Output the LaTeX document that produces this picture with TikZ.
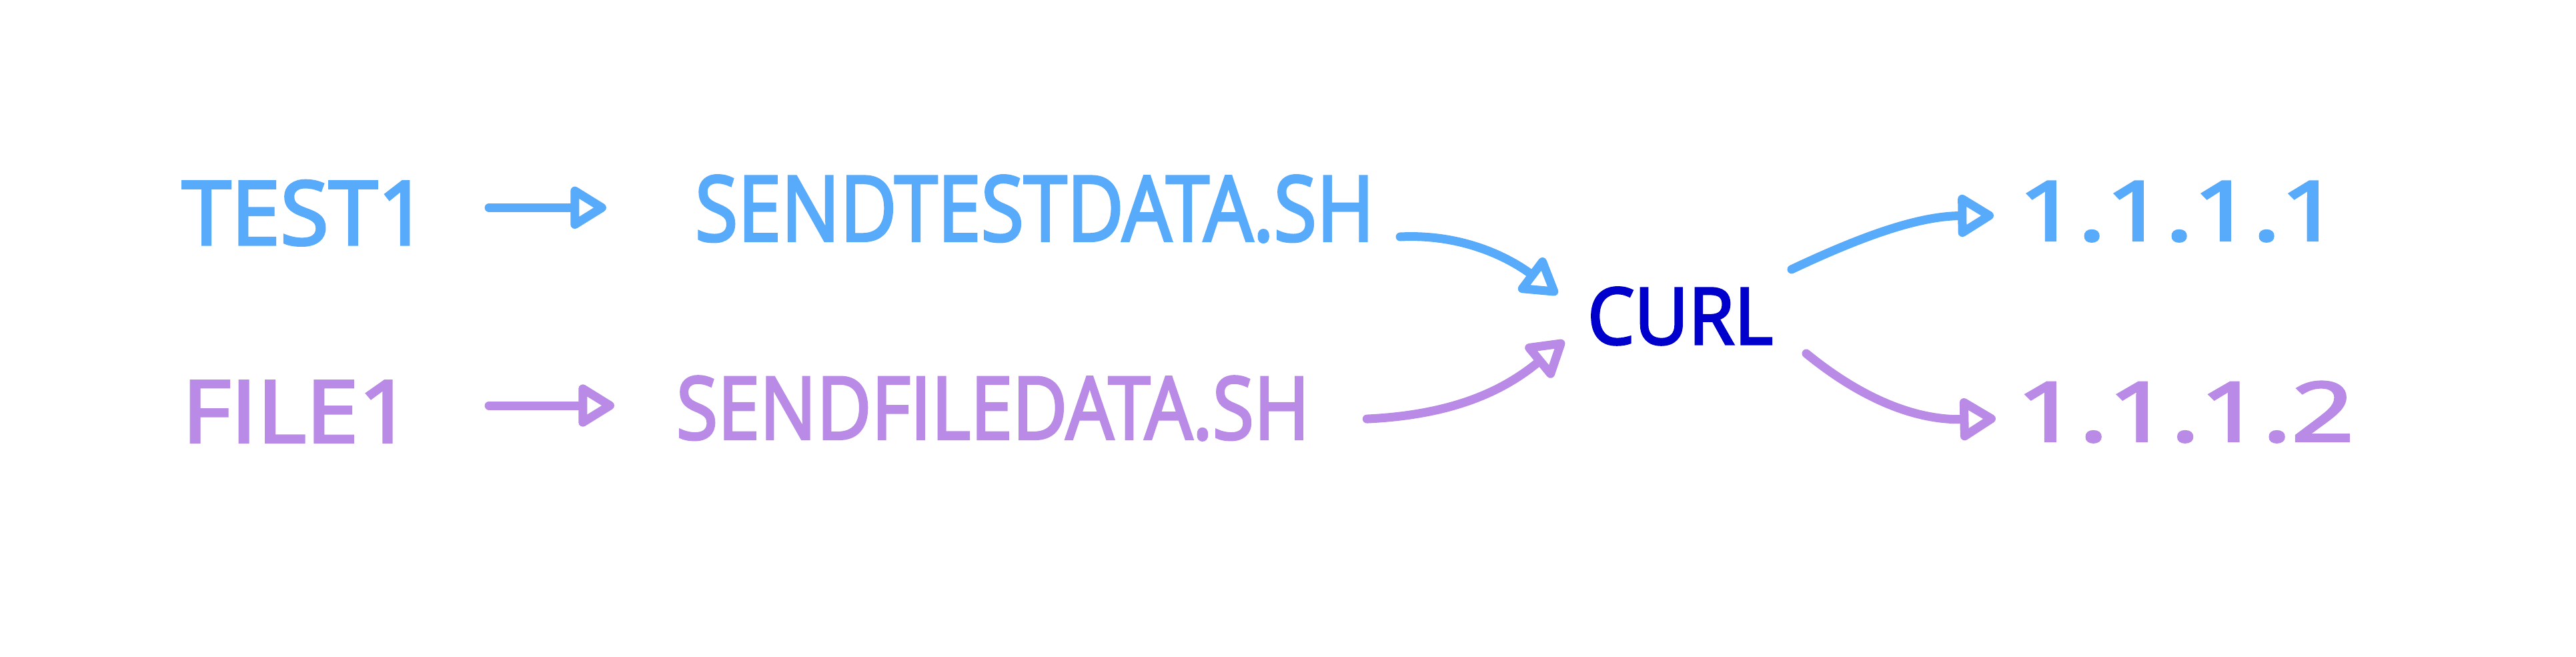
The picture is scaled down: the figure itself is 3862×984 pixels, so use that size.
\documentclass[tikz,border=0pt]{standalone}
\usepackage{fontspec}
\setmainfont{Open Sans}
\newfontfamily\handfont{Open Sans}[FakeBold=3]
\usepackage{graphicx}
\usetikzlibrary{arrows.meta}
\definecolor{cblue}{HTML}{58AAFA}
\definecolor{cpurple}{HTML}{B98BE6}
\definecolor{cdark}{HTML}{0000CC}
\newlength\pxu
\setlength\pxu{0.01cm}
\newcommand{\fitbox}[3]{\resizebox{#1\pxu}{#2\pxu}{\handfont #3}}
\tikzset{
  lbl/.style={anchor=south west, inner sep=0pt, outer sep=0pt},
  arr/.style={line width=0.13cm, line cap=round, line join=round,
    -{Triangle[open, round, length=0.6cm, width=0.7cm]}},
}
\begin{document}
\begin{tikzpicture}[x=0.01cm, y=-0.01cm]
\path[use as bounding box, fill=white] (0,0) rectangle (3862,984);

% labels
\node[lbl, text=cblue] (t1) at (273,368) {\fitbox{369}{96}{TEST1}};
\node[lbl, text=cblue] (s1) at (1042,363) {\fitbox{1018}{98}{SENDTESTDATA.SH}};
\node[lbl, text=cpurple] (f1) at (273,663) {\fitbox{345}{92}{FILE1}};
\node[lbl, text=cpurple] (s2) at (1014,660) {\fitbox{949}{94}{SENDFILEDATA.SH}};
\node[lbl, text=cdark] (curl) at (2380,517) {\fitbox{278}{85}{CURL}};
\node[lbl, text=cblue] (ip1) at (3026,362) {\fitbox{482}{88}{1.1.1.1}};
\node[lbl, text=cpurple] (ip2) at (3023,663) {\fitbox{506}{89}{1.1.1.2}};

% short arrows
\draw[arr, cblue, shorten <=0.91cm, shorten >=1.33cm]
  ([yshift=0.08cm]t1.east) -- ([yshift=0.08cm]t1.east -| s1.west);
\draw[arr, cpurple, shorten <=1.15cm, shorten >=0.93cm]
  ([yshift=0.09cm]f1.east) -- ([yshift=0.09cm]f1.east -| s2.west);

% curves into curl
\draw[arr, cblue] ([shift={(39,-8)}]s1.south east)
  .. controls (2200,350) and (2270,392) .. ([shift={(-45,-33)}]curl.west);
\draw[arr, cpurple] ([shift={(86,16)}]s2.east)
  .. controls (2180,622) and (2255,585) .. ([shift={(-35,37)}]curl.west);

% curves out of curl
\draw[arr, cblue] ([shift={(28,-27)}]curl.north east)
  .. controls (2800,350) and (2880,324) .. ([shift={(-37,6)}]ip1.west);
\draw[arr, cpurple] ([shift={(50,13)}]curl.south east)
  .. controls (2800,605) and (2880,630) .. ([shift={(-31,10)}]ip2.west);
\end{tikzpicture}
\end{document}
